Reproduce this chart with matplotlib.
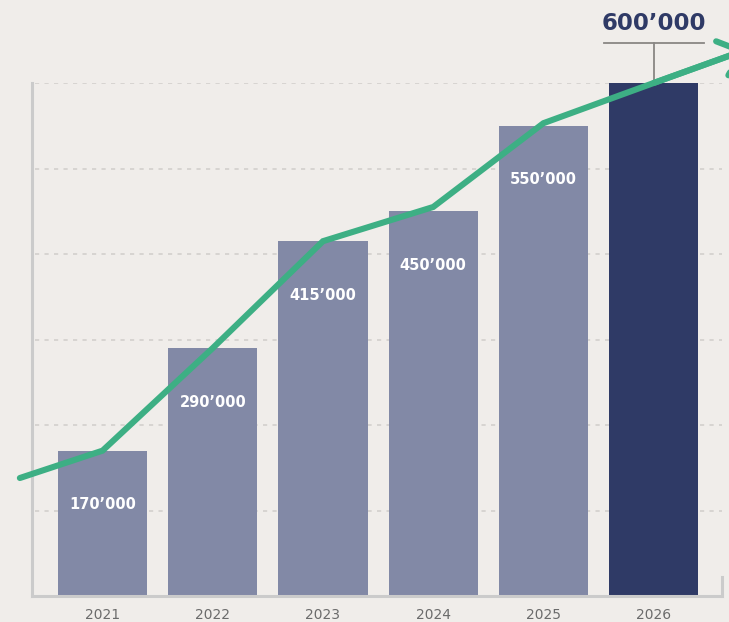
import matplotlib
matplotlib.use("Agg")
import matplotlib.pyplot as plt
from matplotlib.lines import Line2D

# ---- data ----
years = ["2021", "2022", "2023", "2024", "2025", "2026"]
values = [170000, 290000, 415000, 450000, 550000, 600000]
bar_labels = ["170’000", "290’000", "415’000", "450’000", "550’000", "600’000"]
# trend line (extends beyond the first and last category)
line_x = [-0.75, 0, 1, 2, 3, 4, 5, 5.84]
line_y = [138000, 170000, 290000, 415000, 455000, 553000, 600000, 639000]
grid_values = [100000, 200000, 300000, 400000, 500000, 600000]

BG = "#f0edea"
BAR = "#8289a6"
BAR_HL = "#2f3a66"
GREEN = "#3daf84"
GRID = "#d3d0cc"
SPINE = "#cbcbcb"
CONN = "#8a8784"

W, H = 729, 622
fig = plt.figure(figsize=(W / 100, H / 100), dpi=100, facecolor=BG)
ax = fig.add_axes([32 / W, (H - 596) / H, (722 - 32) / W, (596 - 83) / H])
ax.set_facecolor(BG)

xs = list(range(len(years)))
colors = [BAR] * (len(years) - 1) + [BAR_HL]
ax.bar(xs, values, width=0.81, color=colors, zorder=2)

for v in grid_values:
    ax.axhline(v, color=GRID, lw=1.2, ls=(0, (2.5, 3.2)), zorder=1, xmin=0.005)

ax.set_xlim(-0.64, 5.62)
ax.set_ylim(0, 600000)

# bar labels (inside bars)
for x, v, lab in zip(xs[:-1], values[:-1], bar_labels[:-1]):
    ax.annotate(lab, (x, v), xytext=(0, -54), textcoords="offset pixels",
                ha="center", va="center", color="white", fontsize=10.5,
                fontweight="bold", zorder=4)

# highlighted label above last bar with connector
lx, lv = xs[-1], values[-1]
ax.annotate(bar_labels[-1], (lx, lv), xytext=(0, 60), textcoords="offset pixels",
            ha="center", va="center", color=BAR_HL, fontsize=16.5,
            fontweight="bold", annotation_clip=False, zorder=5)
ytop = lv * (1 + 40 / 513)
ax.plot([lx, lx], [lv, ytop], color=CONN, lw=1.3, clip_on=False, zorder=1)
ax.plot([lx - 0.455, lx + 0.455], [ytop, ytop], color=CONN, lw=1.3,
        clip_on=False, zorder=1)

# green trend line with arrow head
ax.plot(line_x, line_y, color=GREEN, lw=4.4, solid_capstyle="round",
        solid_joinstyle="miter", zorder=3, clip_on=False)
ax.annotate("", (line_x[-1], line_y[-1]), xytext=(line_x[-2], line_y[-2]),
            arrowprops=dict(arrowstyle="->,head_length=0.75,head_width=0.65",
                            color=GREEN, lw=4.4, shrinkA=0, shrinkB=0,
                            mutation_scale=20),
            annotation_clip=False, zorder=3)

# spines
for s in ["top", "right"]:
    ax.spines[s].set_visible(False)
for s in ["left", "bottom"]:
    ax.spines[s].set_color(SPINE)
    ax.spines[s].set_linewidth(2.2)
ax.add_line(Line2D([1.0, 1.0], [0, 19 / 513], transform=ax.transAxes,
                   color=SPINE, lw=2.2, clip_on=False))

ax.set_yticks([])
ax.set_xticks(xs)
ax.set_xticklabels(years, fontsize=10, color="#6b6b6b")
ax.tick_params(axis="x", length=0, pad=8.5)

fig.savefig("out.png", dpi=100, facecolor=BG)
